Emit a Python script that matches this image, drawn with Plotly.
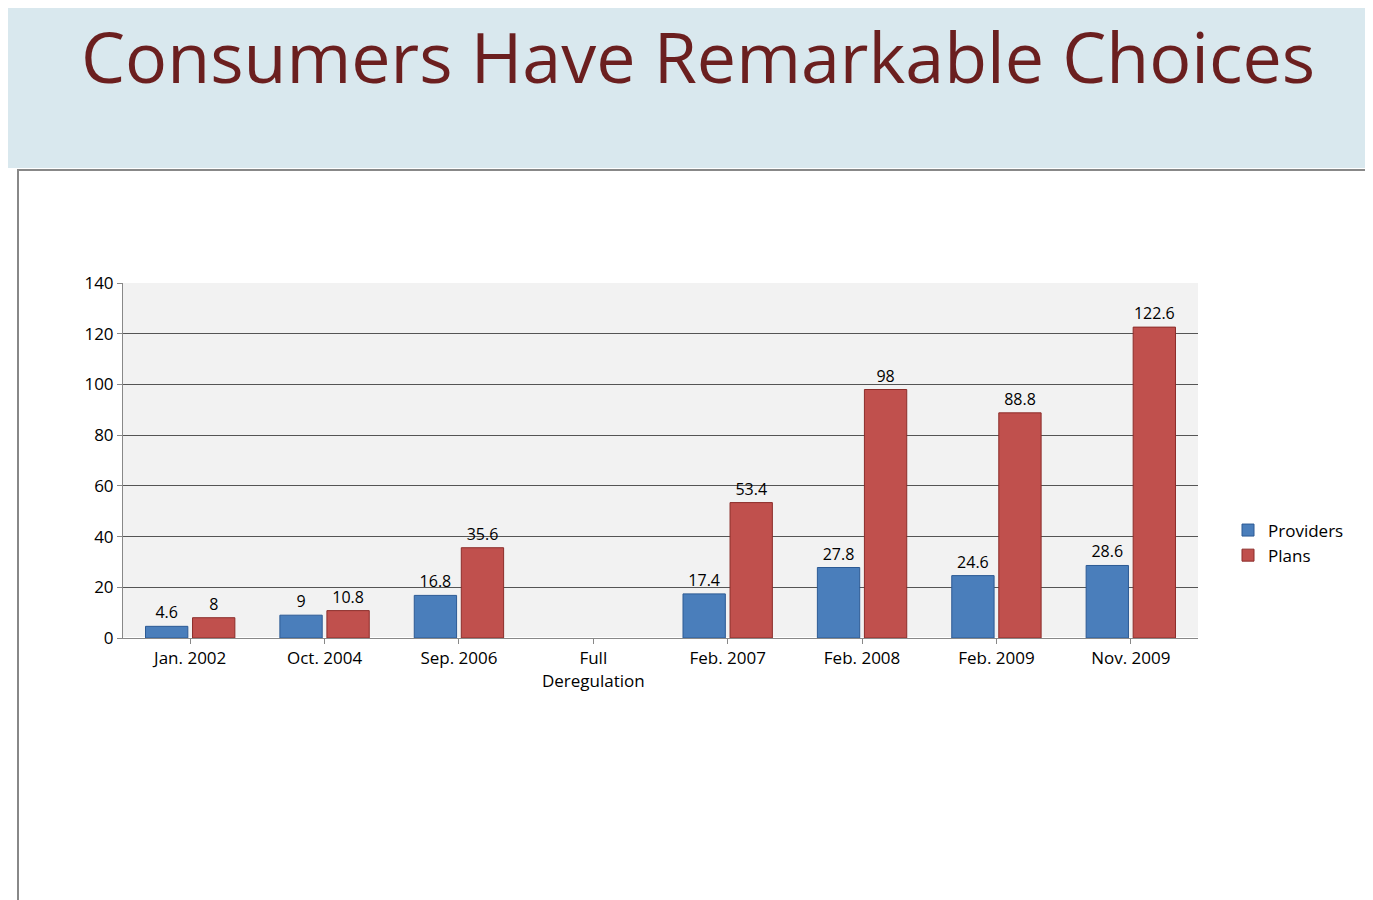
import plotly.graph_objects as go

title_text = "Consumers Have Remarkable Choices"
categories = ["Jan. 2002", "Oct. 2004", "Sep. 2006", "Full<br>Deregulation",
              "Feb. 2007", "Feb. 2008", "Feb. 2009", "Nov. 2009"]
providers = [4.6, 9, 16.8, None, 17.4, 27.8, 24.6, 28.6]
plans = [8, 10.8, 35.6, None, 53.4, 98, 88.8, 122.6]
y_ticks = [0, 20, 40, 60, 80, 100, 120, 140]

def labels(vals):
    return ["" if v is None else f"{v:g}" for v in vals]

fig = go.Figure()
fig.add_trace(go.Bar(name="Providers", x=categories, y=providers,
                     marker=dict(color="#4a7ebb", line=dict(color="#2c5a94", width=1)),
                     text=labels(providers), textposition="outside",
                     textfont=dict(size=16, color="black")))
fig.add_trace(go.Bar(name="Plans", x=categories, y=plans,
                     marker=dict(color="#c0504d", line=dict(color="#8c2d2a", width=1)),
                     text=labels(plans), textposition="outside",
                     textfont=dict(size=16, color="black")))

# plot area: x 115..1190, y 275..630
pw, ph = 1190 - 115, 630 - 275
def px(x): return (x - 115) / pw
def py(y): return (630 - y) / ph

fig.update_layout(
    width=1373, height=900,
    barmode="group", bargap=0.3, bargroupgap=0.1,
    paper_bgcolor="white", plot_bgcolor="#f2f2f2",
    font=dict(family="Open Sans, sans-serif", size=16, color="black"),
    margin=dict(l=115, r=1373 - 1190, t=275, b=270, autoexpand=False),
    legend=dict(x=px(1220), y=py(535), xanchor="left", yanchor="middle",
                bgcolor="rgba(0,0,0,0)", font=dict(size=17)),
    xaxis=dict(showgrid=False, linecolor="#888", ticks="outside", tickcolor="#888",
               tickfont=dict(size=17)),
    yaxis=dict(range=[0, 140], tickvals=y_ticks, gridcolor="#555", gridwidth=1,
               linecolor="#888", ticks="outside", tickcolor="#888",
               tickfont=dict(size=17)),
    annotations=[dict(text=title_text, xref="paper", yref="paper",
                      x=px(690), y=py(48), xanchor="center", yanchor="middle",
                      showarrow=False,
                      font=dict(size=70, color="#6b1f1f", family="Open Sans, sans-serif"))],
    shapes=[
        dict(type="rect", xref="paper", yref="paper", x0=px(-10), x1=px(1390),
             y0=py(160), y1=py(-10),
             fillcolor="#d9e8ee", line=dict(width=0), layer="below"),
        dict(type="rect", xref="paper", yref="paper", x0=px(10), x1=px(1368),
             y0=py(905), y1=py(162),
             fillcolor="rgba(0,0,0,0)", line=dict(color="#888", width=2), layer="below"),
    ],
)
fig.write_html("out.html")
